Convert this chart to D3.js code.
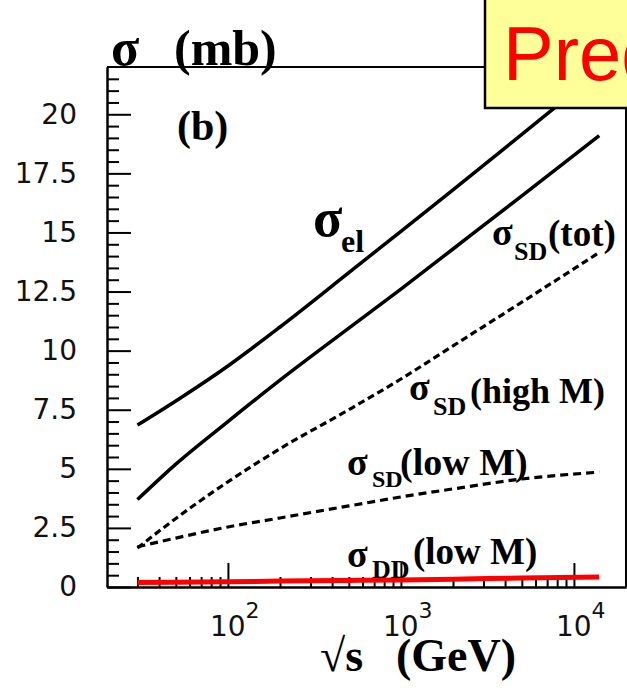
<!DOCTYPE html>
<html>
<head>
<meta charset="utf-8">
<script src="https://cdn.jsdelivr.net/npm/d3@7"></script>
<style>
  body { margin: 0; background: #fff; }
  svg { display: block; }
  .axis path, .axis line { stroke: #000; stroke-width: 2; }
  .axis text { font-family: "DejaVu Sans", sans-serif; font-size: 28px; fill: #111; }
  .lbl { font-family: "Liberation Serif", "Times New Roman", serif; font-weight: bold; fill: #000; }
</style>
</head>
<body>
<div id="chart"></div>
<script>
var energies = [30, 50, 100, 200, 500, 1000, 2000, 5000, 14000];

// cross sections in mb
var sigmaEl     = [6.85, 7.87, 9.35, 11.0, 13.3, 15.05, 16.8, 19.15, 21.8];
var sigmaSdTot  = [3.7, 5.2, 7.0, 8.75, 10.95, 12.6, 14.3, 16.55, 19.1];
var sigmaSdHigh = [1.65, 2.9, 4.45, 5.85, 7.5, 8.8, 10.2, 12.05, 14.15];
var sigmaSdLow  = [1.7, 2.07, 2.54, 2.92, 3.43, 3.81, 4.15, 4.57, 4.86];
var sigmaDdLow  = [0.19, 0.2, 0.22, 0.25, 0.28, 0.3, 0.33, 0.38, 0.42];

var yTicks = [0, 2.5, 5, 7.5, 10, 12.5, 15, 17.5, 20];
var yTickLabels = ["0", "2.5", "5", "7.5", "10", "12.5", "15", "17.5", "20"];
var xMajor = [100, 1000, 10000];
var xExponents = ["2", "3", "4"];

var W = 627, H = 690;

var svg = d3.select("#chart").append("svg")
    .attr("width", W)
    .attr("height", H);

var x = d3.scaleLog().domain([20, 20000]).range([107, 626]);
var y = d3.scaleLinear().domain([0, 22]).range([587, 67]);

// top and right frame
svg.append("path")
    .attr("d", "M107,67H626V587")
    .attr("fill", "none")
    .attr("stroke", "#000")
    .attr("stroke-width", 2);

// y axis, ticks point inward
var yMinor = d3.range(0, 22, 0.5).filter(function(v) { return v % 2.5 != 0; });
svg.append("g").attr("class", "axis")
    .attr("transform", "translate(107,0)")
    .call(d3.axisLeft(y).tickValues(yMinor).tickSize(-12).tickSizeOuter(0).tickFormat(""));
svg.append("g").attr("class", "axis")
    .attr("transform", "translate(107,0)")
    .call(d3.axisLeft(y).tickValues(yTicks).tickSize(-24).tickSizeOuter(0).tickPadding(30)
        .tickFormat(function(d) { return yTickLabels[yTicks.indexOf(d)]; }));

// x axis (log)
var xMinor = x.ticks().filter(function(v) {
    return v > 20 && xMajor.indexOf(v) < 0;
});
svg.append("g").attr("class", "axis")
    .attr("transform", "translate(0,587)")
    .call(d3.axisBottom(x).tickValues(xMinor).tickSize(-10).tickSizeOuter(0).tickFormat(""));
svg.append("g").attr("class", "axis")
    .attr("transform", "translate(0,587)")
    .call(d3.axisBottom(x).tickValues(xMajor).tickSize(-24).tickSizeOuter(0).tickFormat(""));

var xlab = svg.append("g").selectAll("text")
    .data(xMajor)
    .enter().append("text")
        .attr("x", function(d) { return x(d) - 18; })
        .attr("y", 636)
        .attr("font-family", "DejaVu Sans, sans-serif")
        .attr("font-size", 28)
        .attr("fill", "#111");
xlab.append("tspan").text("10");
xlab.append("tspan")
    .attr("dy", -18)
    .attr("font-size", 22)
    .text(function(d, i) { return xExponents[i]; });

// curves
var line = d3.line()
    .x(function(d) { return x(d[0]); })
    .y(function(d) { return y(d[1]); })
    .curve(d3.curveMonotoneX);

function pairs(vals) {
    return energies.map(function(e, i) { return [e, vals[i]]; });
}

var series = [
    { vals: sigmaEl, dash: null, color: "#000", w: 3.5 },
    { vals: sigmaSdTot, dash: null, color: "#000", w: 3.5 },
    { vals: sigmaSdHigh, dash: "7,4", color: "#000", w: 3.2 },
    { vals: sigmaSdLow, dash: "8,5", color: "#000", w: 3.2 },
    { vals: sigmaDdLow, dash: null, color: "#ff0000", w: 5 }
];

svg.append("g").selectAll("path")
    .data(series)
    .enter().append("path")
        .attr("d", function(d) { return line(pairs(d.vals)); })
        .attr("fill", "none")
        .attr("stroke", function(d) { return d.color; })
        .attr("stroke-width", function(d) { return d.w; })
        .attr("stroke-dasharray", function(d) { return d.dash; });

// text helper
function txt(px, py, size, s) {
    return svg.append("text")
        .attr("class", "lbl")
        .attr("x", px)
        .attr("y", py)
        .attr("font-size", size)
        .text(s);
}

txt(111, 65, 52, "σ");
txt(174, 65, 50, "(mb)");
txt(177, 140, 42, "(b)");

txt(313, 236, 54, "σ");
txt(341, 252, 32, "el");

txt(492, 245, 38, "σ");
txt(514, 260, 26, "SD");
txt(548, 246, 37, "(tot)");

txt(409, 400, 38, "σ");
txt(433, 415, 26, "SD");
txt(470, 403, 36, "(high M)");

txt(347, 475, 38, "σ");
txt(372, 487, 24, "SD");
txt(400, 475, 38, "(low M)");

txt(347, 567, 38, "σ");
txt(372, 578, 26, "DD");
txt(413, 564, 37, "(low M)");

txt(320, 671, 46, "√s");
txt(396, 671, 46, "(GeV)");

// yellow note box, partly off the page
svg.append("rect")
    .attr("x", 485)
    .attr("y", -5)
    .attr("width", 160)
    .attr("height", 113)
    .attr("fill", "#ffff99")
    .attr("stroke", "#000")
    .attr("stroke-width", 2.5);
svg.append("text")
    .attr("x", 503)
    .attr("y", 80)
    .attr("font-family", "Liberation Sans, Arial, sans-serif")
    .attr("font-size", 76)
    .attr("fill", "#ff0000")
    .text("Predictions");
</script>
</body>
</html>
